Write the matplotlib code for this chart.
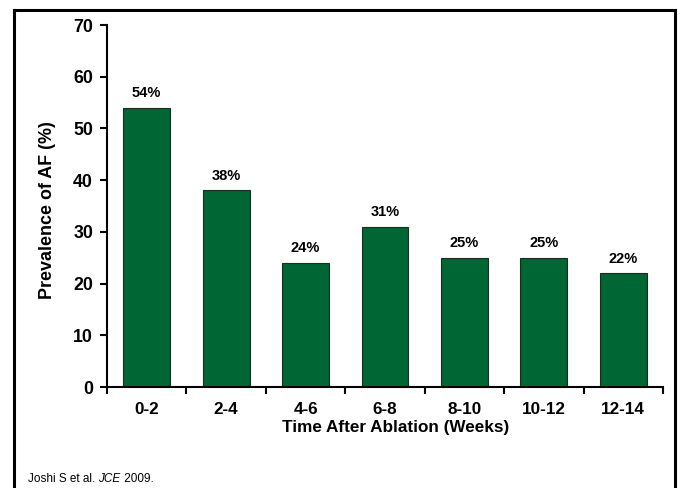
import matplotlib
matplotlib.use("Agg")
import matplotlib.pyplot as plt
from matplotlib.lines import Line2D

plt.rcParams['font.family'] = ['Liberation Sans', 'DejaVu Sans']

categories = ["0-2", "2-4", "4-6", "6-8", "8-10", "10-12", "12-14"]
prevalence = [54, 38, 24, 31, 25, 25, 22]
bar_labels = ["54%", "38%", "24%", "31%", "25%", "25%", "22%"]
y_ticks = [0, 10, 20, 30, 40, 50, 60, 70]

W, H = 680, 488
fig = plt.figure(figsize=(6.8, 4.88), dpi=100)
ax_l, ax_r, ax_t, ax_b = 107, 663, 25, 387
ax = fig.add_axes([ax_l / W, 1 - ax_b / H, (ax_r - ax_l) / W, (ax_b - ax_t) / H])

x = list(range(len(categories)))
ax.bar(x, prevalence, width=0.59, color="#006633", edgecolor="#1c2b1f", linewidth=0.8, zorder=2)
for xi, v, lab in zip(x, prevalence, bar_labels):
    ax.annotate(lab, (xi, v), xytext=(0, 10.5), textcoords="offset points",
                ha="center", va="center", fontsize=10.5, fontweight="bold")

ax.set_xlim(-0.5, len(categories) - 0.5)
ax.set_ylim(0, 70)
ax.set_yticks(y_ticks)
ax.set_yticklabels([str(t) for t in y_ticks], fontsize=12.8, fontweight="bold")
ax.set_xticks(x)
ax.set_xticklabels(categories, fontsize=12.3, fontweight="bold")
ax.tick_params(axis="x", which="major", length=0, pad=11)
ax.set_xticks([i - 0.5 for i in range(len(categories) + 1)], minor=True)
ax.tick_params(axis="x", which="minor", length=5, width=1.5, direction="out")
ax.tick_params(axis="y", length=5, width=1.5, direction="out", pad=5)

for s in ["top", "right"]:
    ax.spines[s].set_visible(False)
for s in ["left", "bottom"]:
    ax.spines[s].set_linewidth(1.5)

ax.set_ylabel("Prevalence of AF (%)", fontsize=12.9, fontweight="bold")
ax.yaxis.set_label_coords((56 - ax_l) / (ax_r - ax_l), (ax_b - 210) / (ax_b - ax_t))
ax.set_xlabel("Time After Ablation (Weeks)", fontsize=12.3, fontweight="bold")
ax.xaxis.set_label_coords((395.5 - ax_l) / (ax_r - ax_l), (ax_b - 420) / (ax_b - ax_t))

fs_note = 8.5
yn = 1 - 479.5 / H
t1 = fig.text(28 / W, yn, "Joshi S et al. ", fontsize=fs_note, va="center", ha="left")
fig.canvas.draw()
r = t1.get_window_extent()
t2 = fig.text(r.x1 / W, yn, "JCE", fontsize=fs_note, va="center", ha="left", style="italic")
fig.canvas.draw()
r2 = t2.get_window_extent()
fig.text(r2.x1 / W, yn, " 2009.", fontsize=fs_note, va="center", ha="left")

lw = 2.2
xl, xr, yt = 13.5 / W, 675 / W, 1 - 9.5 / H
fig.add_artist(Line2D([xl, xl], [0, yt], transform=fig.transFigure, color="black", lw=lw))
fig.add_artist(Line2D([xl, xr], [yt, yt], transform=fig.transFigure, color="black", lw=lw))
fig.add_artist(Line2D([xr, xr], [0, yt], transform=fig.transFigure, color="black", lw=lw))

fig.savefig("out.png", dpi=100)
